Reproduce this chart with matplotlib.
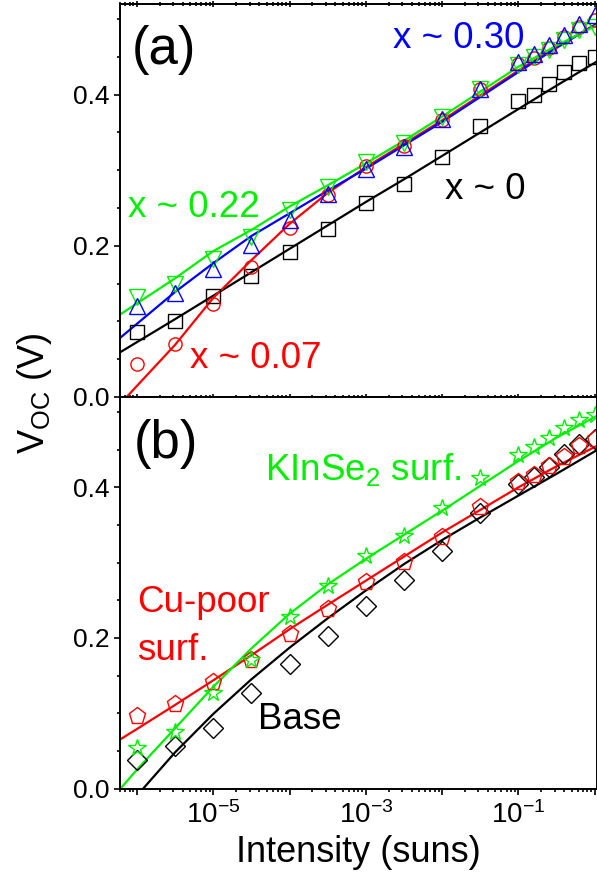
import matplotlib
matplotlib.use("Agg")
import matplotlib.pyplot as plt
import numpy as np
from matplotlib.ticker import LogLocator, MultipleLocator, FuncFormatter, NullFormatter

plt.rcParams["font.family"] = ["Liberation Sans", "DejaVu Sans"]
plt.rcParams["mathtext.fontset"] = "custom"
plt.rcParams["mathtext.rm"] = "Liberation Sans"
plt.rcParams["mathtext.it"] = "Liberation Sans:italic"

GREEN = "#00f000"

# measured intensities, as log10(suns)
meas_exp = [-6, -5.5, -5, -4.5, -4, -3.5, -3, -2.5, -2, -1.5, -1, -0.8, -0.6, -0.4, -0.2, 0]

# (a) Voc vs intensity for different Ag content x
voc_x0 = [0.0855, 0.101, 0.134, 0.160, 0.192, 0.2225, 0.2565, 0.2824, 0.318, 0.358,
          0.391, 0.400, 0.4137, 0.430, 0.4424, 0.450]
voc_x007 = [0.0436, 0.0696, 0.123, 0.172, 0.224, 0.267, 0.305, 0.332, 0.367, 0.407,
            0.440, 0.449, 0.462, 0.476, 0.4895, 0.499]
voc_x022 = [0.132, 0.150, 0.183, 0.212, 0.247, 0.278, 0.311, 0.3366, 0.3706, 0.408,
            0.439, 0.450, 0.4587, 0.473, 0.485, 0.4895]
voc_x030 = [0.120, 0.137, 0.170, 0.201, 0.234, 0.269, 0.302, 0.331, 0.368, 0.408,
            0.443, 0.454, 0.466, 0.4785, 0.494, 0.505]

# (a) simulated curves
fit_a_exp = [-6.223, -5.5, -5, -4.5, -4, -3.5, -3, -2.5, -2, -1.5, -1, -0.5, 0.03]
fit_x0 = [0.059, 0.103, 0.134, 0.165, 0.196, 0.227, 0.258, 0.288, 0.319, 0.350,
          0.381, 0.412, 0.444]
fit_x007_exp = [-6.135, -5.5, -5, -4.5, -4, -3.5, -3, -2.5, -2, -1.5, -1, -0.5, 0.03]
fit_x007 = [0.0, 0.069, 0.131, 0.181, 0.229, 0.270, 0.304, 0.335, 0.366, 0.399,
            0.432, 0.463, 0.494]
fit_x022 = [0.109, 0.157, 0.193, 0.221, 0.252, 0.280, 0.309, 0.339, 0.371, 0.404,
            0.437, 0.465, 0.492]
fit_x030 = [0.078, 0.139, 0.177, 0.213, 0.243, 0.273, 0.302, 0.333, 0.364, 0.397,
            0.430, 0.462, 0.494]

# (b) Voc vs intensity for different surface treatments
voc_base = [0.0376, 0.0561, 0.0809, 0.1268, 0.1657, 0.202, 0.243, 0.277, 0.316, 0.3655,
            0.405, 0.414, 0.427, 0.444, 0.4575, 0.464]
voc_cupoor = [0.0959, 0.112, 0.1414, 0.171, 0.2046, 0.2387, 0.274, 0.3005, 0.3346, 0.3735,
              0.4066, 0.4168, 0.4287, 0.4407, 0.455, 0.464]
voc_kinse = [0.0544, 0.0751, 0.1268, 0.171, 0.2276, 0.2696, 0.3094, 0.336, 0.3726, 0.4124,
             0.4433, 0.453, 0.4654, 0.4787, 0.4893, 0.4964]

# (b) simulated curves
fit_base_exp = [-5.917, -5.5, -5, -4.5, -4, -3.5, -3, -2.5, -2, -1.5, -1, -0.5, 0.03]
fit_base = [0.0, 0.048, 0.099, 0.145, 0.187, 0.226, 0.263, 0.298, 0.330, 0.360,
            0.389, 0.418, 0.4495]
fit_cupoor_exp = [-6.223, -6, -5.5, -5, -4.5, -4, -3.5, -3, -2.5, -2, -1.5, -1, -0.5, 0.03]
fit_cupoor = [0.065, 0.079, 0.111, 0.1436, 0.177, 0.2115, 0.244, 0.276, 0.308, 0.340,
              0.370, 0.400, 0.428, 0.455]
fit_kinse_exp = [-6.214, -6, -5.5, -5, -4.5, -4, -3.5, -3, -2.5, -2, -1.5, -1, -0.5, 0.03]
fit_kinse = [0.0, 0.025, 0.080, 0.135, 0.186, 0.232, 0.271, 0.305, 0.337, 0.369,
             0.402, 0.435, 0.466, 0.495]


def suns(exps):
    return 10.0 ** np.asarray(exps)


def decade_label(val, pos):
    e = int(round(np.log10(val)))
    if e % 2 == 0:
        return ""
    return r"$\mathregular{10^{%d}}$" % e


W, H = 597, 875
fig = plt.figure(figsize=(W / 100, H / 100), dpi=100)
left = 120 / W
width = (596.6 - 120) / W
ax_a = fig.add_axes([left, 1 - 397 / H, width, (397 - 4) / H])
ax_b = fig.add_axes([left, 1 - 788.5 / H, width, (788.5 - 397) / H])

mk = dict(ls="none", mfc="none", mew=1.0)
lw = 1.6
xm = suns(meas_exp)

ax_a.plot(suns(fit_a_exp), fit_x0, color="black", lw=lw)
ax_a.plot(suns(fit_x007_exp), fit_x007, color="red", lw=lw)
ax_a.plot(suns(fit_a_exp), fit_x030, color="blue", lw=lw)
ax_a.plot(suns(fit_a_exp), fit_x022, color=GREEN, lw=lw)
ax_a.plot(xm, voc_x0, marker="s", ms=9.5, mec="black", **mk)
ax_a.plot(xm, voc_x007, marker="o", ms=9.5, mec="red", **mk)
ax_a.plot(xm, voc_x022, marker="v", ms=11.5, mec=GREEN, **mk)
ax_a.plot(xm, voc_x030, marker="^", ms=11.5, mec="blue", **mk)

ax_b.plot(suns(fit_base_exp), fit_base, color="black", lw=lw)
ax_b.plot(suns(fit_cupoor_exp), fit_cupoor, color="red", lw=lw)
ax_b.plot(suns(fit_kinse_exp), fit_kinse, color=GREEN, lw=lw)
ax_b.plot(xm, voc_base, marker="D", ms=10, mec="black", **mk)
ax_b.plot(xm, voc_cupoor, marker="p", ms=12.5, mec="red", **mk)
ax_b.plot(xm, voc_kinse, marker="*", ms=13, mec=GREEN, **mk)

for ax in (ax_a, ax_b):
    ax.set_xscale("log")
    ax.set_xlim(6e-7, 1.06)
    ax.set_ylim(0, 0.52)
    ax.xaxis.set_major_locator(LogLocator(base=10, numticks=20))
    ax.xaxis.set_minor_locator(LogLocator(base=10, subs=np.arange(2, 10), numticks=20))
    ax.xaxis.set_minor_formatter(NullFormatter())
    ax.yaxis.set_major_locator(MultipleLocator(0.2))
    ax.yaxis.set_minor_locator(MultipleLocator(0.05))
    ax.yaxis.set_major_formatter(FuncFormatter(lambda v, p: "%.1f" % v))
    for sp in ax.spines.values():
        sp.set_linewidth(1.4)
    ax.tick_params(which="both", direction="out", width=1.2, labelsize=19,
                   top=False, right=True)
    ax.tick_params(which="major", length=4.2, pad=3)
    ax.tick_params(which="minor", length=2.4)
    ax.tick_params(axis="x", which="major", pad=5, labelsize=20)

ax_a.xaxis.set_major_formatter(NullFormatter())
ax_b.xaxis.set_major_formatter(FuncFormatter(decade_label))
ax_a.tick_params(axis="x", which="both", top=True)
ax_a.tick_params(axis="x", which="both", direction="inout")

big = 38
mid = 26.5
ax_a.text(0.0245, 0.847, "(a)", fontsize=big, transform=ax_a.transAxes, va="baseline")
ax_a.text(0.573, 0.888, "x ~ 0.30", fontsize=mid, color="blue",
          transform=ax_a.transAxes, va="baseline")
ax_a.text(0.0168, 0.459, "x ~ 0.22", fontsize=mid, color=GREEN,
          transform=ax_a.transAxes, va="baseline")
ax_a.text(0.682, 0.503, "x ~ 0", fontsize=mid, color="black",
          transform=ax_a.transAxes, va="baseline")
ax_a.text(0.147, 0.0746, "x ~ 0.07", fontsize=mid, color="red",
          transform=ax_a.transAxes, va="baseline")

ax_b.text(0.028, 0.843, "(b)", fontsize=big, transform=ax_b.transAxes, va="baseline")
ax_b.text(0.304, 0.788, r"KInSe$_\mathregular{2}$ surf.", fontsize=mid, color=GREEN,
          transform=ax_b.transAxes, va="baseline")
ax_b.text(0.0357, 0.4516, "Cu-poor", fontsize=mid, color="red",
          transform=ax_b.transAxes, va="baseline")
ax_b.text(0.0357, 0.328, "surf.", fontsize=mid, color="red",
          transform=ax_b.transAxes, va="baseline")
ax_b.text(0.2895, 0.151, "Base", fontsize=mid, color="black",
          transform=ax_b.transAxes, va="baseline")

fig.text(0.6005, 1 - 853 / H, "Intensity (suns)", fontsize=26, ha="center", va="center")
fig.text(0.058, 1 - 393 / H, r"V$_\mathregular{OC}$ (V)", fontsize=26, rotation=90,
         ha="center", va="center")

fig.savefig("out.png", dpi=100)
